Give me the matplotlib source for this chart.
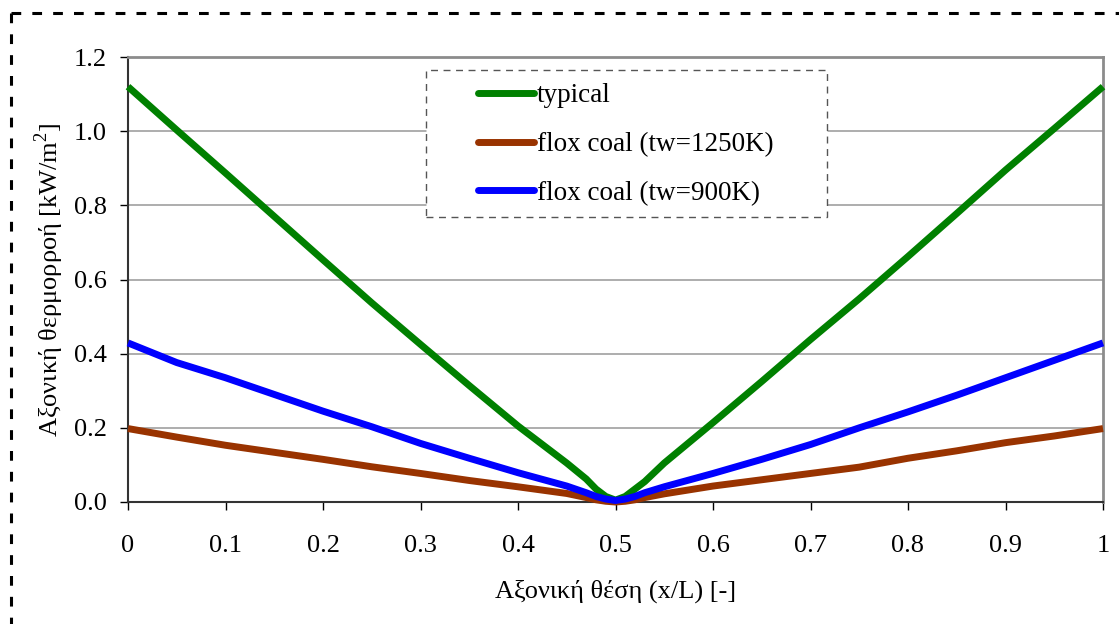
import matplotlib
matplotlib.use("Agg")
import matplotlib.pyplot as plt
from matplotlib.lines import Line2D
from matplotlib.patches import Rectangle

plt.rcParams["font.family"] = ["Liberation Serif", "DejaVu Serif"]
plt.rcParams["mathtext.fontset"] = "custom"
plt.rcParams["mathtext.rm"] = "Liberation Serif"
plt.rcParams["lines.scale_dashes"] = False

# Axial position x/L
x_pos = [0.0, 0.05, 0.1, 0.15, 0.2, 0.25, 0.3, 0.35, 0.4, 0.45, 0.47, 0.48, 0.49,
         0.5, 0.51, 0.52, 0.53, 0.55, 0.6, 0.65, 0.7, 0.75, 0.8, 0.85, 0.9, 0.95, 1.0]

# Axial heat flux [kW/m2]
typical = [1.12, 1.003, 0.887, 0.770, 0.653, 0.537, 0.425, 0.314, 0.205, 0.105, 0.062,
           0.035, 0.015, 0.005, 0.015, 0.035, 0.055, 0.105, 0.214, 0.325, 0.438, 0.548,
           0.662, 0.778, 0.895, 1.007, 1.12]
flox_1250 = [0.198, 0.175, 0.153, 0.134, 0.115, 0.095, 0.077, 0.058, 0.041, 0.023, 0.012,
             0.006, 0.002, 0.0, 0.002, 0.006, 0.012, 0.022, 0.043, 0.060, 0.077, 0.094,
             0.118, 0.138, 0.160, 0.178, 0.198]
flox_900 = [0.429, 0.376, 0.335, 0.290, 0.245, 0.203, 0.158, 0.118, 0.079, 0.043, 0.025,
            0.015, 0.008, 0.004, 0.008, 0.015, 0.025, 0.041, 0.077, 0.115, 0.155, 0.200,
            0.243, 0.288, 0.335, 0.382, 0.429]

labels = ["typical", "flox coal (tw=1250K)", "flox coal (tw=900K)"]
colors = ["#008000", "#993300", "#0000FF"]

x_ticks = [0, 0.1, 0.2, 0.3, 0.4, 0.5, 0.6, 0.7, 0.8, 0.9, 1.0]
x_ticklabels = ["0", "0.1", "0.2", "0.3", "0.4", "0.5", "0.6", "0.7", "0.8", "0.9", "1"]
y_ticks = [0.0, 0.2, 0.4, 0.6, 0.8, 1.0, 1.2]
y_ticklabels = ["0.0", "0.2", "0.4", "0.6", "0.8", "1.0", "1.2"]

W, H = 1119, 624
fig = plt.figure(figsize=(W / 100, H / 100), dpi=100)
ax = fig.add_axes([128 / W, 1 - 502 / H, (1103 - 128) / W, (502 - 57) / H])

for series, lab, col in zip([typical, flox_1250, flox_900], labels, colors):
    ax.plot(x_pos, series, color=col, lw=5, label=lab, solid_capstyle="butt",
            solid_joinstyle="round", clip_on=False, zorder=3)

ax.set_xlim(0, 1)
ax.set_ylim(0, 1.2)
ax.set_xticks(x_ticks)
ax.set_xticklabels(x_ticklabels)
ax.set_yticks(y_ticks)
ax.set_yticklabels(y_ticklabels)
ax.tick_params(axis="both", direction="out", length=6, width=1, colors="black",
               labelsize=19)
ax.tick_params(axis="x", pad=18)
ax.tick_params(axis="y", pad=9)

ax.grid(axis="y", color="#a0a0a0", lw=1.2)
ax.set_axisbelow(True)

for side in ["left", "bottom"]:
    ax.spines[side].set_color("#333333")
    ax.spines[side].set_linewidth(1.5)
for side in ["top", "right"]:
    ax.spines[side].set_color("#8c8c8c")
    ax.spines[side].set_linewidth(2)

ax.set_xlabel("Αξονική θέση (x/L) [-]", fontsize=19, labelpad=16)
ax.set_ylabel("Αξονική θερμορροή [kW/m$^2$]", fontsize=19, labelpad=6)

# Dashed box behind the legend entries
ax.add_patch(Rectangle((426 / W, 1 - 217 / H), (827 - 426) / W, (217 - 70) / H,
                       transform=fig.transFigure, fill=True, facecolor="white",
                       edgecolor="#555555", lw=1.0, linestyle=(0, (5, 4)),
                       zorder=4, clip_on=False))

leg = ax.legend(loc="center", bbox_to_anchor=(626 / W, 1 - 144.5 / H),
                bbox_transform=fig.transFigure, frameon=False, fontsize=19.5,
                handlelength=2.05, handletextpad=0.12, labelspacing=0.88,
                borderpad=0)
leg.set_zorder(5)
for h in leg.get_lines():
    h.set_linewidth(5)
    h.set_solid_capstyle("round")

# Outer dotted frame
for xs, ys in [([10.5, W], [H - 12.5, H - 12.5]), ([10.5, 10.5], [H - 12.5, 0])]:
    fig.add_artist(Line2D([v / W for v in xs], [v / H for v in ys],
                          transform=fig.transFigure, color="black", lw=2.2,
                          linestyle=(0, (7, 8))))

fig.savefig("out.png", dpi=100, facecolor="white")
